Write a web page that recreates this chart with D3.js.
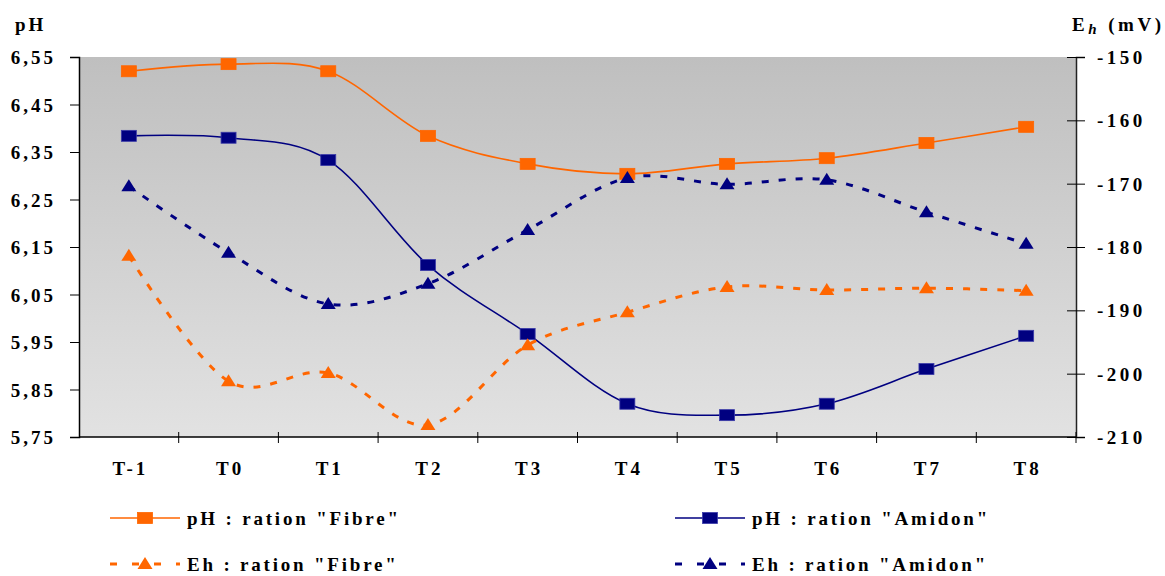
<!DOCTYPE html>
<html>
<head>
<meta charset="utf-8">
<script src="https://cdn.jsdelivr.net/npm/d3@7"></script>
<style>
  html, body { margin: 0; padding: 0; background: #ffffff; }
  svg text { font-family: "Liberation Serif", "Times New Roman", serif; font-weight: bold; fill: #000; }
</style>
</head>
<body>
<div id="chart"></div>
<script>
const CATEGORIES = ["T-1", "T0", "T1", "T2", "T3", "T4", "T5", "T6", "T7", "T8"];

const PH_FIBRE = [6.52, 6.535, 6.52, 6.384, 6.325, 6.304, 6.325, 6.337, 6.369, 6.403];
const PH_AMIDON = [6.384, 6.38, 6.333, 6.112, 5.967, 5.82, 5.796, 5.82, 5.893, 5.963];
const EH_FIBRE = [-181.4, -201.2, -199.9, -208.1, -195.5, -190.3, -186.3, -186.8, -186.5, -186.9];
const EH_AMIDON = [-170.4, -180.9, -189.0, -185.8, -177.3, -169.1, -170.1, -169.4, -174.5, -179.5];

const PH_TICKS = [5.75, 5.85, 5.95, 6.05, 6.15, 6.25, 6.35, 6.45, 6.55];
const EH_TICKS = [-210, -200, -190, -180, -170, -160, -150];

const SERIES = [
  { label: 'pH : ration "Fibre"', values: PH_FIBRE, axis: "ph", color: "#ff6600", marker: "square", dashed: false },
  { label: 'pH : ration "Amidon"', values: PH_AMIDON, axis: "ph", color: "#000080", marker: "square", dashed: false },
  { label: 'Eh : ration "Fibre"', values: EH_FIBRE, axis: "eh", color: "#ff6600", marker: "triangle", dashed: true },
  { label: 'Eh : ration "Amidon"', values: EH_AMIDON, axis: "eh", color: "#000080", marker: "triangle", dashed: true },
];

const width = 1165;
const height = 576;
const plot = { left: 79, right: 1076, top: 57, bottom: 437 };

const svg = d3.select("#chart")
  .append("svg")
  .attr("width", width)
  .attr("height", height);

const defs = svg.append("defs");
const grad = defs.append("linearGradient")
  .attr("id", "bg")
  .attr("x1", 0).attr("y1", 0).attr("x2", 0).attr("y2", 1);
grad.append("stop").attr("offset", "0%").attr("stop-color", "#bfbfbf");
grad.append("stop").attr("offset", "100%").attr("stop-color", "#e2e2e2");

const xScale = d3.scaleBand()
  .domain(CATEGORIES)
  .range([plot.left, plot.right]);
const xc = (c) => xScale(c) + xScale.bandwidth() / 2;

const yPh = d3.scaleLinear().domain([5.75, 6.55]).range([plot.bottom, plot.top]);
const yEh = d3.scaleLinear().domain([-210, -150]).range([plot.bottom, plot.top]);

svg.append("rect")
  .attr("x", plot.left)
  .attr("y", plot.top)
  .attr("width", plot.right - plot.left)
  .attr("height", plot.bottom - plot.top)
  .attr("fill", "url(#bg)");

// left axis
const leftAxis = svg.append("g")
  .attr("transform", `translate(${plot.left},0)`)
  .call(d3.axisLeft(yPh).tickValues(PH_TICKS).tickSize(9).tickPadding(0)
    .tickFormat((d) => d.toFixed(2).replace(".", ",")));
leftAxis.select(".domain").attr("stroke", "#000").attr("stroke-width", 1.5);
leftAxis.selectAll(".tick line").attr("stroke", "#000").attr("stroke-width", 1);
leftAxis.selectAll(".tick text")
  .attr("x", -23)
  .attr("dy", "0.35em")
  .attr("font-size", 19)
  .style("letter-spacing", "3px")
  .style("font-family", '"Liberation Serif", serif')
  .style("font-weight", "bold");

// right axis
const rightAxis = svg.append("g")
  .attr("transform", `translate(${plot.right},0)`)
  .call(d3.axisRight(yEh).tickValues(EH_TICKS).tickSize(9).tickPadding(0)
    .tickFormat((d) => String(d)));
rightAxis.select(".domain").attr("stroke", "#222").attr("stroke-width", 1.5);
rightAxis.selectAll(".tick line").attr("x1", -9).attr("stroke", "#000");
rightAxis.selectAll(".tick text")
  .attr("x", 21)
  .attr("dy", "0.35em")
  .attr("font-size", 19)
  .style("letter-spacing", "3.5px")
  .style("font-family", '"Liberation Serif", serif')
  .style("font-weight", "bold");

// bottom axis
const bottom = svg.append("g");
bottom.append("line")
  .attr("x1", plot.left).attr("x2", plot.right)
  .attr("y1", plot.bottom).attr("y2", plot.bottom)
  .attr("stroke", "#000").attr("stroke-width", 1.5);
bottom.selectAll("line.tick")
  .data(CATEGORIES.slice(1).concat(["__end"]))
  .join("line")
  .attr("class", "tick")
  .attr("x1", (d) => (d === "__end" ? plot.right : xScale(d)))
  .attr("x2", (d) => (d === "__end" ? plot.right : xScale(d)))
  .attr("y1", plot.bottom - 5)
  .attr("y2", plot.bottom + 6)
  .attr("stroke", "#000");
bottom.selectAll("text")
  .data(CATEGORIES)
  .join("text")
  .attr("x", (d) => xc(d) + 1.5)
  .attr("y", 475)
  .attr("text-anchor", "middle")
  .attr("font-size", 19)
  .style("letter-spacing", "3px")
  .text((d) => d);

// titles
svg.append("text")
  .attr("x", 15).attr("y", 31)
  .attr("font-size", 19)
  .style("letter-spacing", "3px")
  .text("pH");

const ehTitle = svg.append("text")
  .attr("x", 1072).attr("y", 31)
  .attr("font-size", 19)
  .style("letter-spacing", "3.5px");
ehTitle.append("tspan").text("E");
ehTitle.append("tspan").attr("font-style", "italic").attr("font-size", 15).attr("dy", 3).text("h");
ehTitle.append("tspan").attr("dy", -3).text("\u00a0(mV)");

// series
const line = d3.line()
  .x((d) => xc(d.cat))
  .y((d) => d.y)
  .curve(d3.curveCatmullRom.alpha(0));

function drawMarker(g, type, color, x, y) {
  if (type === "square") {
    g.append("rect")
      .attr("x", x - 7.5).attr("y", y - 5.5)
      .attr("width", 15).attr("height", 11)
      .attr("fill", color)
      .attr("stroke", color === "#000080" ? "#3a3aa8" : color)
      .attr("stroke-width", 0.8);
  } else {
    g.append("path")
      .attr("d", `M${x},${y - 7}L${x + 7.5},${y + 5}L${x - 7.5},${y + 5}Z`)
      .attr("fill", color);
  }
}

const seriesLayer = svg.append("g");
SERIES.forEach((s) => {
  const scale = s.axis === "ph" ? yPh : yEh;
  const pts = CATEGORIES.map((cat, i) => ({ cat, y: scale(s.values[i]) }));
  seriesLayer.append("path")
    .datum(pts)
    .attr("fill", "none")
    .attr("stroke", s.color)
    .attr("stroke-width", s.dashed ? 3 : 1.6)
    .attr("stroke-dasharray", s.dashed ? "7,10" : null)
    .attr("d", line);
});
SERIES.forEach((s) => {
  const scale = s.axis === "ph" ? yPh : yEh;
  const g = seriesLayer.append("g");
  CATEGORIES.forEach((cat, i) => drawMarker(g, s.marker, s.color, xc(cat), scale(s.values[i])));
});

// legend
const legendPos = [
  { x: 110, y: 518 },
  { x: 675, y: 518 },
  { x: 110, y: 564 },
  { x: 675, y: 564 },
];
SERIES.forEach((s, i) => {
  const p = legendPos[i];
  const g = svg.append("g").attr("transform", `translate(${p.x},${p.y})`);
  g.append("line")
    .attr("x1", 0).attr("x2", 70)
    .attr("y1", 0).attr("y2", 0)
    .attr("stroke", s.color)
    .attr("stroke-width", s.dashed ? 3 : 1.6)
    .attr("stroke-dasharray", s.dashed ? "7,15" : null);
  drawMarker(g, s.marker, s.color, 35, 0);
  g.append("text")
    .attr("x", 77)
    .attr("y", 7)
    .attr("font-size", 19)
    .style("letter-spacing", "2.8px")
    .text(s.label);
});
</script>
</body>
</html>
